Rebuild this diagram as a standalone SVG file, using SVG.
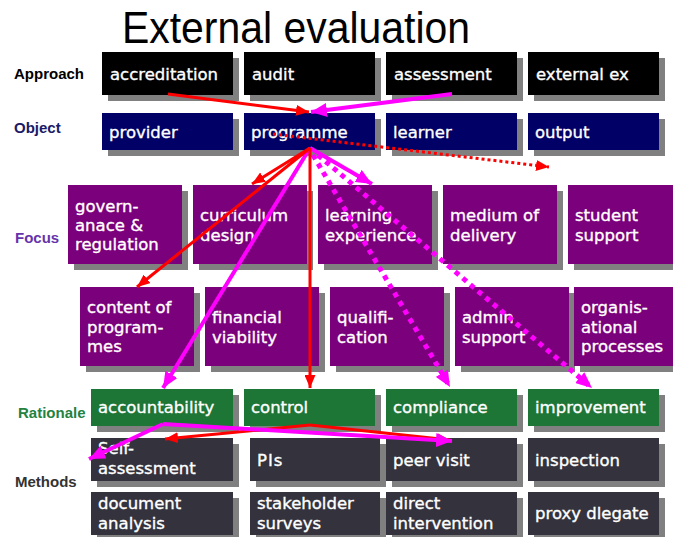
<svg xmlns="http://www.w3.org/2000/svg" width="673" height="537" viewBox="0 0 673 537">
<defs>
<style>
.sh{fill:#808080}
.ap{fill:#000000}
.ob{fill:#000066}
.fo{fill:#7b007b}
.ra{fill:#1d7536}
.me{fill:#34333d}
.t{font-family:"DejaVu Sans",Verdana,sans-serif;font-size:16.5px;fill:#ffffff;stroke:#ffffff;stroke-width:0.35}
.lab{font-family:"Liberation Sans",Arial,sans-serif;font-size:15px;font-weight:bold}
.red{stroke:#ff0000;stroke-width:3;fill:none}
.mag{stroke:#ff00ff;stroke-width:4;fill:none}
.rdot{stroke:#ff0000;stroke-width:3;fill:none;stroke-dasharray:3 3}
.mdot{stroke:#ff00ff;stroke-width:5;fill:none;stroke-dasharray:5 5}
</style>
<marker id="ar" markerUnits="userSpaceOnUse" markerWidth="13" markerHeight="11" refX="13" refY="5.5" orient="auto"><path d="M0,0 L13,5.5 L0,11 z" fill="#ff0000"/></marker>
<marker id="am" markerUnits="userSpaceOnUse" markerWidth="16" markerHeight="14" refX="16" refY="7" orient="auto"><path d="M0,0 L16,7 L0,14 z" fill="#ff00ff"/></marker>
</defs>
<rect width="673" height="537" fill="#ffffff"/>
<text x="122" y="43" font-family="'Liberation Sans',Arial,sans-serif" font-size="45" textLength="348" lengthAdjust="spacingAndGlyphs" fill="#000">External evaluation</text>

<g id="labels">
<text class="lab" x="14" y="79" fill="#000">Approach</text>
<text class="lab" x="14" y="133" fill="#1a1a66">Object</text>
<text class="lab" x="15" y="243" fill="#6633aa">Focus</text>
<text class="lab" x="18" y="418" fill="#248241">Rationale</text>
<text class="lab" x="15" y="487" fill="#333333">Methods</text>
</g>

<g id="accreditation"><rect class="sh" x="108" y="58" width="131" height="43"/><rect class="ap" x="102" y="52" width="131" height="43"/><text class="t" x="110" y="80">accreditation</text></g>
<g id="audit"><rect class="sh" x="250" y="58" width="131" height="43"/><rect class="ap" x="244" y="52" width="131" height="43"/><text class="t" x="252" y="80">audit</text></g>
<g id="assessment"><rect class="sh" x="392" y="58" width="131" height="43"/><rect class="ap" x="386" y="52" width="131" height="43"/><text class="t" x="394" y="80">assessment</text></g>
<g id="external-ex"><rect class="sh" x="534" y="58" width="131" height="43"/><rect class="ap" x="528" y="52" width="131" height="43"/><text class="t" x="536" y="80">external ex</text></g>

<g id="provider"><rect class="sh" x="108" y="119" width="131" height="37"/><rect class="ob" x="102" y="113" width="131" height="37"/><text class="t" x="109" y="138">provider</text></g>
<g id="programme"><rect class="sh" x="250" y="119" width="131" height="37"/><rect class="ob" x="244" y="113" width="131" height="37"/><text class="t" x="251" y="138">programme</text></g>
<g id="learner"><rect class="sh" x="392" y="119" width="131" height="37"/><rect class="ob" x="386" y="113" width="131" height="37"/><text class="t" x="393" y="138">learner</text></g>
<g id="output"><rect class="sh" x="534" y="119" width="131" height="37"/><rect class="ob" x="528" y="113" width="131" height="37"/><text class="t" x="535" y="138">output</text></g>

<g id="governance"><rect class="sh" x="74" y="191" width="114" height="79"/><rect class="fo" x="68" y="185" width="114" height="79"/><text class="t" x="75" y="212">govern-</text><text class="t" x="75" y="231">anace &amp;</text><text class="t" x="75" y="250">regulation</text></g>
<g id="curriculum-design"><rect class="sh" x="199" y="191" width="114" height="79"/><rect class="fo" x="193" y="185" width="114" height="79"/><text class="t" x="200" y="221">curriculum</text><text class="t" x="200" y="241">design</text></g>
<g id="learning-experience"><rect class="sh" x="324" y="191" width="114" height="79"/><rect class="fo" x="318" y="185" width="114" height="79"/><text class="t" x="325" y="221">learning</text><text class="t" x="325" y="241">experience</text></g>
<g id="medium-of-delivery"><rect class="sh" x="449" y="191" width="114" height="79"/><rect class="fo" x="443" y="185" width="114" height="79"/><text class="t" x="450" y="221">medium of</text><text class="t" x="450" y="241">delivery</text></g>
<g id="student-support"><rect class="sh" x="574" y="191" width="114" height="79"/><rect class="fo" x="568" y="185" width="114" height="79"/><text class="t" x="575" y="221">student</text><text class="t" x="575" y="241">support</text></g>

<g id="content-of-programmes"><rect class="sh" x="86" y="293" width="114" height="79"/><rect class="fo" x="80" y="287" width="114" height="79"/><text class="t" x="87" y="313">content of</text><text class="t" x="87" y="333">program-</text><text class="t" x="87" y="352">mes</text></g>
<g id="financial-viability"><rect class="sh" x="211" y="293" width="114" height="79"/><rect class="fo" x="205" y="287" width="114" height="79"/><text class="t" x="212" y="323">financial</text><text class="t" x="212" y="343">viability</text></g>
<g id="qualification"><rect class="sh" x="336" y="293" width="114" height="79"/><rect class="fo" x="330" y="287" width="114" height="79"/><text class="t" x="337" y="323">qualifi-</text><text class="t" x="337" y="343">cation</text></g>
<g id="admin-support"><rect class="sh" x="461" y="293" width="114" height="79"/><rect class="fo" x="455" y="287" width="114" height="79"/><text class="t" x="462" y="323">admin</text><text class="t" x="462" y="343">support</text></g>
<g id="organisational-processes"><rect class="sh" x="580" y="293" width="114" height="79"/><rect class="fo" x="574" y="287" width="114" height="79"/><text class="t" x="581" y="313">organis-</text><text class="t" x="581" y="333">ational</text><text class="t" x="581" y="352">processes</text></g>

<g id="accountability"><rect class="sh" x="97" y="395" width="142" height="37"/><rect class="ra" x="91" y="389" width="142" height="37"/><text class="t" x="98" y="413">accountability</text></g>
<g id="control"><rect class="sh" x="250" y="395" width="131" height="37"/><rect class="ra" x="244" y="389" width="131" height="37"/><text class="t" x="251" y="413">control</text></g>
<g id="compliance"><rect class="sh" x="392" y="395" width="131" height="37"/><rect class="ra" x="386" y="389" width="131" height="37"/><text class="t" x="393" y="413">compliance</text></g>
<g id="improvement"><rect class="sh" x="534" y="395" width="131" height="37"/><rect class="ra" x="528" y="389" width="131" height="37"/><text class="t" x="535" y="413">improvement</text></g>

<g id="self-assessment"><rect class="sh" x="97" y="444" width="142" height="43"/><rect class="me" x="91" y="438" width="142" height="43"/><text class="t" x="98" y="454">Self-</text><text class="t" x="98" y="474">assessment</text></g>
<g id="pis"><rect class="sh" x="256" y="444" width="130" height="43"/><rect class="me" x="250" y="438" width="130" height="43"/><text class="t" x="257" y="466" letter-spacing="1">PIs</text></g>
<g id="peer-visit"><rect class="sh" x="392" y="444" width="131" height="43"/><rect class="me" x="386" y="438" width="131" height="43"/><text class="t" x="393" y="466">peer visit</text></g>
<g id="inspection"><rect class="sh" x="534" y="444" width="131" height="43"/><rect class="me" x="528" y="438" width="131" height="43"/><text class="t" x="535" y="466">inspection</text></g>

<g id="document-analysis"><rect class="sh" x="97" y="498" width="142" height="43"/><rect class="me" x="91" y="492" width="142" height="43"/><text class="t" x="98" y="509">document</text><text class="t" x="98" y="529">analysis</text></g>
<g id="stakeholder-surveys"><rect class="sh" x="256" y="498" width="130" height="43"/><rect class="me" x="250" y="492" width="130" height="43"/><text class="t" x="257" y="509">stakeholder</text><text class="t" x="257" y="529">surveys</text></g>
<g id="direct-intervention"><rect class="sh" x="392" y="498" width="131" height="43"/><rect class="me" x="386" y="492" width="131" height="43"/><text class="t" x="393" y="509">direct</text><text class="t" x="393" y="529">intervention</text></g>
<g id="proxy-dlegate"><rect class="sh" x="534" y="498" width="131" height="43"/><rect class="me" x="528" y="492" width="131" height="43"/><text class="t" x="535" y="519">proxy dlegate</text></g>

<g id="connectors">
<line class="red" x1="168" y1="94" x2="309" y2="112" marker-end="url(#ar)"/>
<line class="mag" x1="452" y1="94" x2="311" y2="112" marker-end="url(#am)"/>
<line class="rdot" x1="273" y1="134" x2="549" y2="167" marker-end="url(#ar)"/>
<line class="mdot" x1="313" y1="155" x2="450" y2="387" marker-end="url(#am)"/>
<line class="mdot" x1="318" y1="155" x2="592" y2="388" marker-end="url(#am)"/>
<line class="mag" x1="310" y1="148" x2="163" y2="388" marker-end="url(#am)"/>
<line class="mag" x1="310" y1="148" x2="372" y2="184" marker-end="url(#am)"/>
<line class="red" x1="310" y1="148" x2="252" y2="184" marker-end="url(#ar)"/>
<line class="red" x1="310" y1="148" x2="137" y2="287" marker-end="url(#ar)"/>
<line class="red" x1="310" y1="148" x2="310" y2="388" marker-end="url(#ar)"/>
<line class="red" x1="310" y1="425" x2="165" y2="439" marker-end="url(#ar)"/>
<line class="red" x1="310" y1="425" x2="450" y2="440" marker-end="url(#ar)"/>
<line class="mag" x1="163" y1="424" x2="89" y2="459" marker-end="url(#am)"/>
<line class="mag" x1="163" y1="424" x2="452" y2="441" marker-end="url(#am)"/>
</g>
</svg>
